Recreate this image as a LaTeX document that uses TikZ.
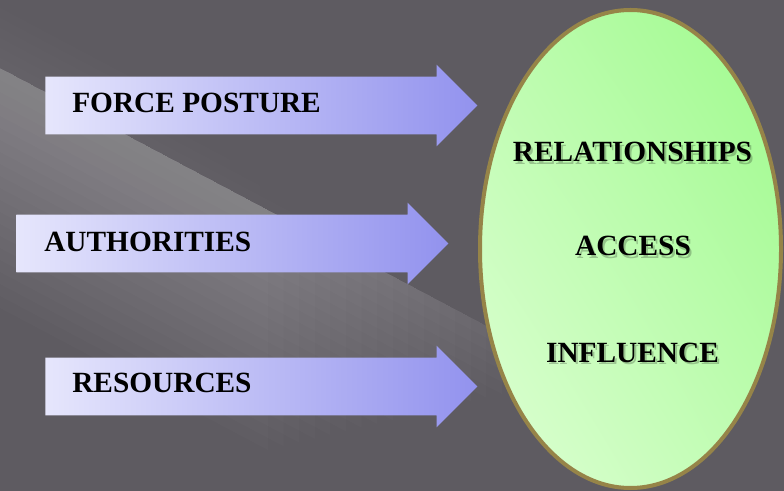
\documentclass[tikz,border=0pt]{standalone}
\usepackage{fontspec}
\setmainfont{Liberation Serif}
\usetikzlibrary{shapes.arrows,shapes.geometric,shadings,positioning}

\definecolor{slate}{RGB}{94,91,97}
\definecolor{lavlight}{RGB}{230,230,252}
\definecolor{lavdark}{RGB}{146,146,238}
\definecolor{leafdark}{RGB}{158,250,140}
\definecolor{leafmid}{RGB}{190,252,176}
\definecolor{leaflight}{RGB}{222,255,212}
\definecolor{rim}{RGB}{150,132,72}

\begin{document}
\begin{tikzpicture}[x=0.75pt,y=-0.75pt]
\tikzstyle{fat arrow}=[single arrow, single arrow head extend=9pt, minimum height=324pt, inner xsep=0pt, inner ysep=21.375pt, left color=lavlight, right color=lavdark, anchor=tail]
\tikzstyle{word}=[font=\fontsize{22}{26}\selectfont\bfseries, text=black, inner sep=0pt]
\tikzstyle{word shade}=[word, text=black, opacity=0.22]
\useasboundingbox (0,0) rectangle (784,491);
\clip (0,0) rectangle (784,491);
\fill[slate] (0,0) rectangle (784,491);
% light streak
\foreach \d in {12,24,...,240}{
  \pgfmathsetmacro{\len}{580-1.3*\d}
  \fill[white, opacity=0.014] (0,68) -- (\len,68+0.53*\len) -- (\len,68+0.53*\len+\d) -- (0,68+\d) -- cycle;
}
\foreach \d in {10,20,...,60}{
  \pgfmathsetmacro{\len}{320-3*\d}
  \fill[white, opacity=0.012] (0,68) -- (\len,68+0.53*\len) -- (\len,68+0.53*\len-\d) -- (0,68-\d) -- cycle;
}

\node[fat arrow] (fp) at (45,105.5) {};
\node[fat arrow] (au) at (16,243.5) {};
\node[fat arrow] (rs) at (45,386.5) {};
\node[word, anchor=base west] (fpt) at (72,113) {FORCE POSTURE};
\node[word, anchor=base west] (aut) at (44,251.5) {AUTHORITIES};
\node[word, anchor=base west] (rst) at (72,392) {RESOURCES};

\node[ellipse, minimum width=225.75pt, minimum height=358.5pt, draw=rim, line width=3pt, upper right=leafdark, lower left=leaflight, upper left=leafmid, lower right=leafmid] (oval) at (630.5,249) {};
\node[word shade, anchor=base] (rels) at (634.5,164.5) {RELATIONSHIPS};
\node[word shade, anchor=base] (accs) at (635,258.5) {ACCESS};
\node[word shade, anchor=base] (infs) at (634.5,364.5) {INFLUENCE};
\node[word, anchor=base] (rel) at (632.5,162) {RELATIONSHIPS};
\node[word, anchor=base] (acc) at (633,256) {ACCESS};
\node[word, anchor=base] (inf) at (632.5,362) {INFLUENCE};
\end{tikzpicture}
\end{document}
